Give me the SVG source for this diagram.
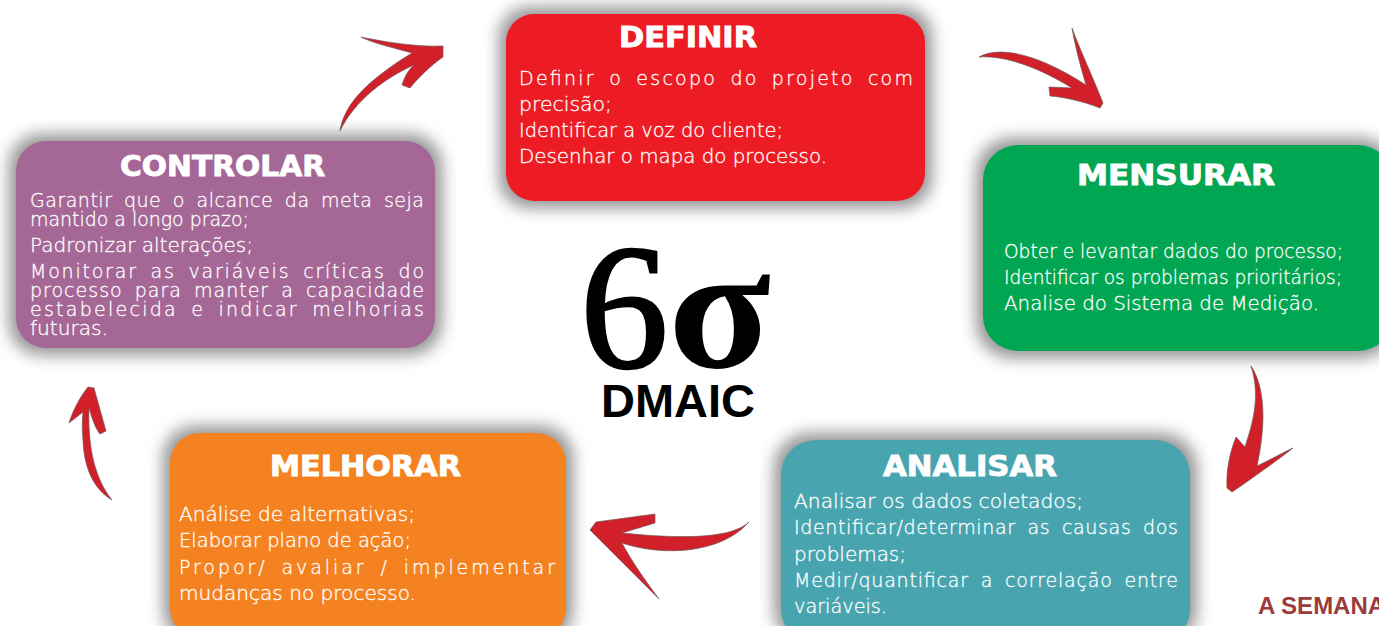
<svg xmlns="http://www.w3.org/2000/svg" width="1379" height="626" viewBox="0 0 1379 626">
<style>
.b{font-family:"DejaVu Sans","Liberation Sans",sans-serif;font-size:19px;fill:#fff;stroke:#fff;stroke-width:.3px;font-weight:200}
.j{word-spacing:5px}
.t{font-family:"DejaVu Sans","Liberation Sans",sans-serif;font-size:29px;fill:#fff;stroke:#fff;stroke-width:.9px;font-weight:700}
.s{fill:#666;opacity:.7;filter:url(#blur)}
.a{fill:#D2202A;stroke:#6b5a5a;stroke-width:.7;stroke-linejoin:round}
</style>
<defs><filter id="blur" x="-15%" y="-20%" width="130%" height="140%"><feGaussianBlur stdDeviation="8"/></filter></defs>
<rect width="1379" height="626" fill="#fff"/>
<g id="connectors">
<path class="a" d="M340 131C344 105 365 82 412 53C395 48 375 44 361 37C385 42 415 47 443 46L443 57C430 66 418 78 410 88L402 85C404 78 408 70 414 65C385 78 355 100 340 131Z"/>
<path class="a" d="M979 57C1000 45 1040 55 1086 85C1080 65 1075 45 1072 28C1080 50 1092 75 1103 103L1100 108C1085 102 1065 97 1050 96L1049 87L1072 88C1040 68 1005 55 979 57Z"/>
<path class="a" d="M1251 366C1264 385 1267 420 1257 466C1270 460 1282 453 1293 448C1275 462 1250 480 1232 492L1227 488C1226 470 1230 452 1236 437L1245 447C1250 430 1262 400 1251 366Z"/>
<path class="a" d="M749 522C735 535 700 541 622 533L655 523L655 514L596 522L590 530L659 599C645 580 632 562 622 543C660 556 720 555 749 522Z"/>
<path class="a" d="M88 387L94 388L106 431L100 434C95 428 92 418 89 408C88 440 92 475 112 500C95 490 84 470 83 440C82 430 82 420 83 412L69 423C73 410 80 397 88 387Z"/>
</g>
<g id="node-definir">
<rect class="s" x="499" y="7" width="433" height="201" rx="30"/>
<rect x="506" y="14" width="419" height="187" rx="28" fill="#ED1C24"/>
<text class="t" x="619" y="47" textLength="138" lengthAdjust="spacingAndGlyphs">DEFINIR</text>
<text class="b j" x="519" y="85" textLength="394">Definir o escopo do projeto com</text>
<text class="b" x="519" y="111" textLength="93" lengthAdjust="spacingAndGlyphs">precisão;</text>
<text class="b" x="519" y="137" textLength="264" lengthAdjust="spacingAndGlyphs">Identificar a voz do cliente;</text>
<text class="b" x="519" y="163" textLength="308" lengthAdjust="spacingAndGlyphs">Desenhar o mapa do processo.</text>
</g>
<g id="node-mensurar">
<rect class="s" x="976" y="138" width="420" height="220" rx="36"/>
<rect x="983" y="145" width="410" height="206" rx="35" fill="#00A651"/>
<text class="t" x="1077" y="185" textLength="198" lengthAdjust="spacingAndGlyphs">MENSURAR</text>
<text class="b" x="1004" y="258" textLength="339" lengthAdjust="spacingAndGlyphs">Obter e levantar dados do processo;</text>
<text class="b" x="1004" y="284" textLength="338" lengthAdjust="spacingAndGlyphs">Identificar os problemas prioritários;</text>
<text class="b" x="1004" y="310" textLength="315" lengthAdjust="spacingAndGlyphs">Analise do Sistema de Medição.</text>
</g>
<g id="node-analisar">
<rect class="s" x="774" y="433" width="423" height="212" rx="36"/>
<rect x="781" y="440" width="409" height="204" rx="35" fill="#48A5B0"/>
<text class="t" x="883" y="476" textLength="174" lengthAdjust="spacingAndGlyphs">ANALISAR</text>
<text class="b" x="794" y="508" textLength="289" lengthAdjust="spacingAndGlyphs">Analisar os dados coletados;</text>
<text class="b j" x="794" y="534" textLength="384">Identificar/determinar as causas dos</text>
<text class="b" x="794" y="561" textLength="112" lengthAdjust="spacingAndGlyphs">problemas;</text>
<text class="b j" x="794" y="587" textLength="384">Medir/quantificar a correlação entre</text>
<text class="b" x="794" y="613" textLength="93" lengthAdjust="spacingAndGlyphs">variáveis.</text>
</g>
<g id="node-melhorar">
<rect class="s" x="163" y="426" width="410" height="216" rx="32"/>
<rect x="170" y="433" width="396" height="205" rx="30" fill="#F58220"/>
<text class="t" x="270" y="476" textLength="191" lengthAdjust="spacingAndGlyphs">MELHORAR</text>
<text class="b" x="179" y="521" textLength="236" lengthAdjust="spacingAndGlyphs">Análise de alternativas;</text>
<text class="b" x="179" y="547" textLength="232" lengthAdjust="spacingAndGlyphs">Elaborar plano de ação;</text>
<text class="b j" x="179" y="574" textLength="376">Propor/ avaliar / implementar</text>
<text class="b" x="179" y="600" textLength="237" lengthAdjust="spacingAndGlyphs">mudanças no processo.</text>
</g>
<g id="node-controlar">
<rect class="s" x="9" y="134" width="433" height="221" rx="32"/>
<rect x="16" y="141" width="419" height="207" rx="30" fill="#A56795"/>
<text class="t" x="120" y="176" textLength="205" lengthAdjust="spacingAndGlyphs">CONTROLAR</text>
<text class="b j" x="30" y="207" textLength="394">Garantir que o alcance da meta seja</text>
<text class="b" x="30" y="226" textLength="219" lengthAdjust="spacingAndGlyphs">mantido a longo prazo;</text>
<text class="b" x="30" y="252" textLength="223" lengthAdjust="spacingAndGlyphs">Padronizar alterações;</text>
<text class="b j" x="30" y="278" textLength="394">Monitorar as variáveis críticas do</text>
<text class="b j" x="30" y="297" textLength="394">processo para manter a capacidade</text>
<text class="b j" x="30" y="316" textLength="394">estabelecida e indicar melhorias</text>
<text class="b" x="30" y="335" textLength="78" lengthAdjust="spacingAndGlyphs">futuras.</text>
</g>
<g id="node-logo">
<text x="580" y="367" font-family="'Liberation Serif',serif" font-size="177" fill="#000" stroke="#000" stroke-width="2.5">6</text>
<text x="668" y="367" textLength="103" lengthAdjust="spacingAndGlyphs" font-family="'Liberation Serif',serif" font-weight="700" font-size="177" fill="#000">σ</text>
<text x="601" y="417" font-family="'Liberation Sans',sans-serif" font-weight="700" font-size="47" fill="#000">DMAIC</text>
</g>
<text x="1258" y="614" font-family="'Liberation Sans',sans-serif" font-weight="700" font-size="24" fill="#9B3B3B">A SEMANA</text>
</svg>
